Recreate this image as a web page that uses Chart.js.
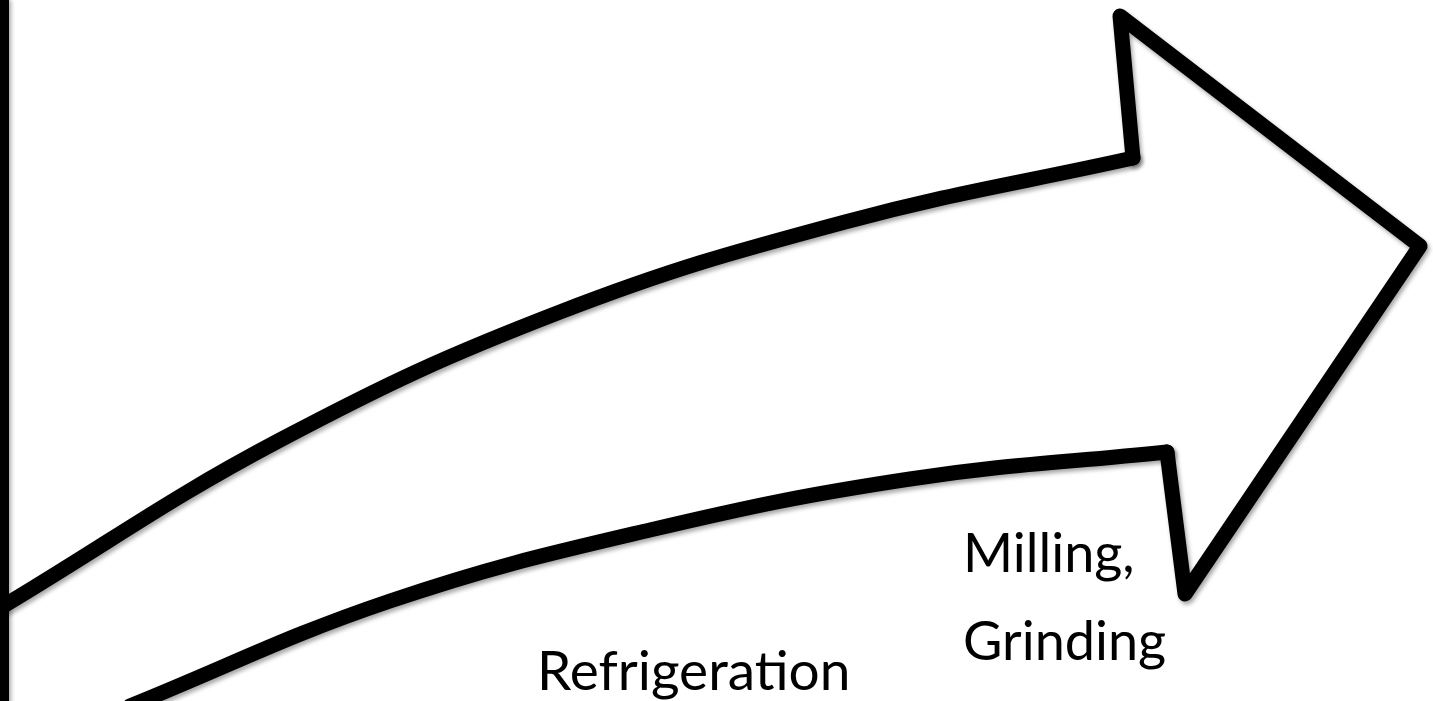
<!DOCTYPE html>
<html>
<head>
<meta charset="utf-8">
<script src="https://cdn.jsdelivr.net/npm/chart.js@4"></script>
<style>
  html, body { margin: 0; padding: 0; background: #fff; }
  #wrap { width: 1433px; height: 701px; }
</style>
</head>
<body>
<div id="wrap"><canvas id="myChart" width="1433" height="701"></canvas></div>
<script>
// outline of the arrow (x right, y down)
const upperX = [5, 280, 560, 845, 1133];
const upperY = [605, 440, 312, 222, 158];
const headX = [1133, 1120, 1420, 1185, 1167];
const headY = [158, 16, 246, 594, 452];
const lowerX = [130, 390, 650, 910, 1167];
const lowerY = [706, 601, 530, 479, 452];
const edgeX = [4.5, 4.5];
const edgeY = [0, 701];

const labels = ['Refrigeration', 'Milling,', 'Grinding'];

const toPoints = (xs, ys) => xs.map((x, i) => ({ x: x, y: ys[i] }));

(() => {
  'use strict'

  const lineStyle = {
    showLine: true,
    borderColor: '#000',
    borderWidth: 15,
    pointRadius: 0,
    borderJoinStyle: 'round',
    borderCapStyle: 'round',
    fill: false
  }

  // soft shadow under the outline
  const shadowPlugin = {
    id: 'shadow',
    beforeDatasetsDraw(chart) {
      const c = chart.ctx
      c.save()
      c.shadowColor = 'rgba(0,0,0,0.35)'
      c.shadowBlur = 4
      c.shadowOffsetX = 2
      c.shadowOffsetY = 3
    },
    afterDatasetsDraw(chart) {
      chart.ctx.restore()
    }
  }

  // labels placed through the scales
  const labelPos = [
    { x: 537, y: 690, size: 55 },
    { x: 963, y: 572, size: 54 },
    { x: 963, y: 660, size: 54 }
  ]
  const textPlugin = {
    id: 'texts',
    afterDraw(chart) {
      const c = chart.ctx
      const xs = chart.scales.x
      const ys = chart.scales.y
      c.save()
      c.fillStyle = '#000'
      c.textBaseline = 'alphabetic'
      c.textAlign = 'left'
      labels.forEach((t, i) => {
        c.font = labelPos[i].size + 'px Lato, "Open Sans", sans-serif'
        c.fillText(t, xs.getPixelForValue(labelPos[i].x), ys.getPixelForValue(labelPos[i].y))
      })
      c.restore()
    }
  }

  const ctx = document.getElementById('myChart')
  // eslint-disable-next-line no-unused-vars
  const myChart = new Chart(ctx, {
    type: 'scatter',
    data: {
      datasets: [
        Object.assign({ data: toPoints(edgeX, edgeY) }, lineStyle, { borderWidth: 9, borderCapStyle: 'butt' }),
        Object.assign({ data: toPoints(upperX, upperY), tension: 0.4 }, lineStyle),
        Object.assign({ data: toPoints(headX, headY), tension: 0 }, lineStyle),
        Object.assign({ data: toPoints(lowerX, lowerY), tension: 0.4 }, lineStyle)
      ]
    },
    options: {
      responsive: false,
      animation: false,
      layout: { padding: 0 },
      scales: {
        x: { type: 'linear', min: 0, max: 1433, display: false },
        y: { type: 'linear', min: 0, max: 701, reverse: true, display: false }
      },
      plugins: {
        legend: { display: false },
        tooltip: { enabled: false }
      }
    },
    plugins: [shadowPlugin, textPlugin]
  })
})()
</script>
</body>
</html>
